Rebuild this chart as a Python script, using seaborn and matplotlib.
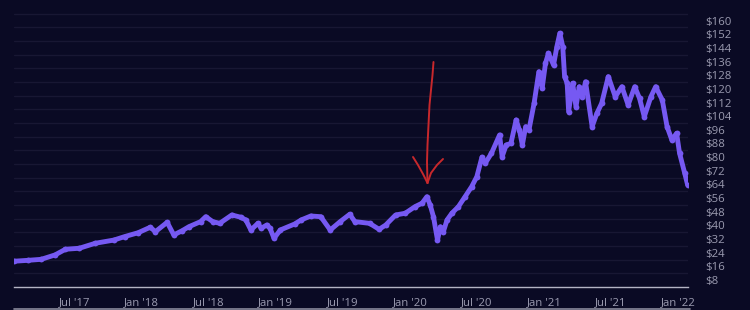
import matplotlib
matplotlib.use("Agg")
import matplotlib.pyplot as plt
import seaborn as sns
import pandas as pd
import numpy as np
from matplotlib.lines import Line2D

# ---- data ----
dates = [
    "2017-01-19", "2017-02-24", "2017-04-02", "2017-05-10", "2017-06-07",
    "2017-07-15", "2017-08-27", "2017-10-17", "2017-11-15", "2017-12-22",
    "2018-01-24", "2018-02-07", "2018-03-11", "2018-03-29", "2018-04-21",
    "2018-05-09", "2018-06-10", "2018-06-24", "2018-07-13", "2018-08-01",
    "2018-09-03", "2018-09-27", "2018-10-11", "2018-10-25", "2018-11-13",
    "2018-11-22", "2018-12-07", "2018-12-16", "2018-12-27", "2019-01-13",
    "2019-02-21", "2019-03-11", "2019-04-06", "2019-05-03", "2019-05-29",
    "2019-06-25", "2019-07-21", "2019-08-04", "2019-09-13", "2019-10-09",
    "2019-10-27", "2019-11-23", "2019-12-19", "2020-01-15", "2020-02-03",
    "2020-02-16", "2020-02-25", "2020-03-05", "2020-03-16", "2020-03-24",
    "2020-04-01", "2020-04-11", "2020-04-24", "2020-05-12", "2020-05-30",
    "2020-06-17", "2020-07-01", "2020-07-15", "2020-07-24", "2020-08-10",
    "2020-09-01", "2020-09-08", "2020-09-19", "2020-10-02", "2020-10-16",
    "2020-10-25", "2020-11-02", "2020-11-11", "2020-11-20", "2020-12-04",
    "2020-12-17", "2020-12-26", "2021-01-04", "2021-01-12", "2021-01-26",
    "2021-02-04", "2021-02-12", "2021-02-20", "2021-02-25", "2021-03-04",
    "2021-03-08", "2021-03-19", "2021-03-28", "2021-04-06", "2021-04-14",
    "2021-04-23", "2021-05-11", "2021-05-24", "2021-06-06", "2021-06-24",
    "2021-07-13", "2021-07-31", "2021-08-17", "2021-09-04", "2021-09-17",
    "2021-09-30", "2021-10-18", "2021-10-31", "2021-11-18", "2021-12-01",
    "2021-12-14", "2021-12-27", "2022-01-04", "2022-01-18", "2022-01-26",
]
prices = [
    19.0, 19.5, 20.1, 22.7, 26.0,
    26.6, 29.5, 31.4, 33.4, 35.7,
    38.9, 36.3, 41.8, 34.4, 36.9,
    39.2, 42.2, 45.1, 42.2, 41.2,
    46.1, 44.8, 43.2, 37.3, 41.2,
    38.3, 40.2, 38.3, 32.4, 37.3,
    40.8, 43.2, 45.5, 45.1, 37.3,
    42.2, 46.5, 42.2, 41.2, 37.7,
    40.2, 46.1, 47.1, 51.0, 53.0,
    56.8, 52.0, 45.1, 31.4, 39.2,
    36.3, 43.2, 47.1, 51.0, 56.8,
    62.7, 68.5, 80.0, 76.4, 82.3,
    93.0, 80.3, 87.1, 88.1, 101.8,
    95.9, 87.1, 97.9, 95.9, 111.6,
    130.1, 120.4, 135.0, 140.9, 134.0,
    144.8, 152.6, 144.8, 127.2, 123.3,
    106.7, 123.3, 109.6, 121.3, 115.4,
    124.2, 97.9, 105.7, 111.6, 127.2,
    115.4, 121.3, 110.6, 121.3, 114.5,
    103.7, 115.4, 121.3, 113.5, 97.9,
    90.1, 94.0, 82.3, 70.6, 63.7,
]

y_ticks = list(range(8, 161, 8))
y_labels = [f"${v}" for v in y_ticks]
grid_levels = list(range(4, 168, 8))
x_ticks = ["2017-07-01", "2018-01-01", "2018-07-01", "2019-01-01", "2019-07-01",
           "2020-01-01", "2020-07-01", "2021-01-01", "2021-07-01", "2022-01-01"]
x_labels = ["Jul '17", "Jan '18", "Jul '18", "Jan '19", "Jul '19",
            "Jan '20", "Jul '20", "Jan '21", "Jul '21", "Jan '22"]

# ---- style ----
BG = "#0a0a24"
LINE = "#7659f2"
GRID = "#181733"
TEXT = "#9b9bb0"
AXIS = "#b4b4c4"

sns.set_theme(style="dark")
plt.rcParams["font.family"] = ["Open Sans", "DejaVu Sans"]

W, H = 750, 310
fig = plt.figure(figsize=(W / 100, H / 100), dpi=100)
fig.patch.set_facecolor(BG)
ax = fig.add_axes([14 / W, (H - 286.8) / H, (688 - 14) / W, (286.8 - 7) / H])
ax.set_facecolor(BG)

df = pd.DataFrame({"date": pd.to_datetime(dates), "price": prices})
sns.lineplot(data=df, x="date", y="price", ax=ax, color=LINE, linewidth=3.5,
             marker="o", markersize=4.2, markeredgewidth=0, zorder=3)

ax.set_xlim(pd.Timestamp("2017-01-18"), pd.Timestamp("2022-01-27"))
ax.set_ylim(4, 168)
ax.set_xlabel("")
ax.set_ylabel("")

for s in ["top", "left", "right"]:
    ax.spines[s].set_visible(False)
ax.spines["bottom"].set_visible(True)
ax.spines["bottom"].set_color(AXIS)
ax.spines["bottom"].set_linewidth(1.0)

# y axis on the right
ax.yaxis.tick_right()
ax.set_yticks(y_ticks)
ax.set_yticklabels(y_labels)
ax.set_yticks(grid_levels, minor=True)
ax.tick_params(axis="y", which="both", length=0, pad=12.5, labelsize=8.2,
               labelcolor=TEXT)
for lbl in ax.get_yticklabels():
    lbl.set_horizontalalignment("left")

# x axis
ax.set_xticks(pd.to_datetime(x_ticks))
ax.set_xticklabels(x_labels)
ax.tick_params(axis="x", which="major", direction="out", length=7.2, width=1.0,
               color="#c8c8d4", pad=0.5, labelsize=8.2, labelcolor=TEXT)
ax.tick_params(axis="x", which="minor", length=0)

ax.grid(False)
ax.grid(True, which="minor", axis="y", color=GRID, linewidth=1.0, zorder=0)
ax.grid(False, which="major")

# bottom border of the time scale
fig.add_artist(Line2D([14 / W, 690 / W], [1.5 / H, 1.5 / H], transform=fig.transFigure,
                      color="#8a8a9c", linewidth=1.2))

# hand-drawn red arrow annotation
def P(pts):
    xs = [p[0] / W for p in pts]
    ys = [1 - p[1] / H for p in pts]
    return xs, ys

RED = "#c8282c"
shaft = [(433.5, 62), (432.5, 75), (431, 90), (429.5, 105), (428.5, 125),
         (427.5, 145), (427, 162), (427.5, 183)]
head_l = [(413, 157), (418, 165), (423, 174), (427.5, 183)]
head_r = [(443, 159), (437, 165), (431, 173), (427.5, 183)]
for pts in (shaft, head_l, head_r):
    xs, ys = P(pts)
    fig.add_artist(Line2D(xs, ys, transform=fig.transFigure, color=RED,
                          linewidth=1.4, solid_capstyle="round", solid_joinstyle="round"))

fig.savefig("out.png", dpi=100, facecolor=BG)
